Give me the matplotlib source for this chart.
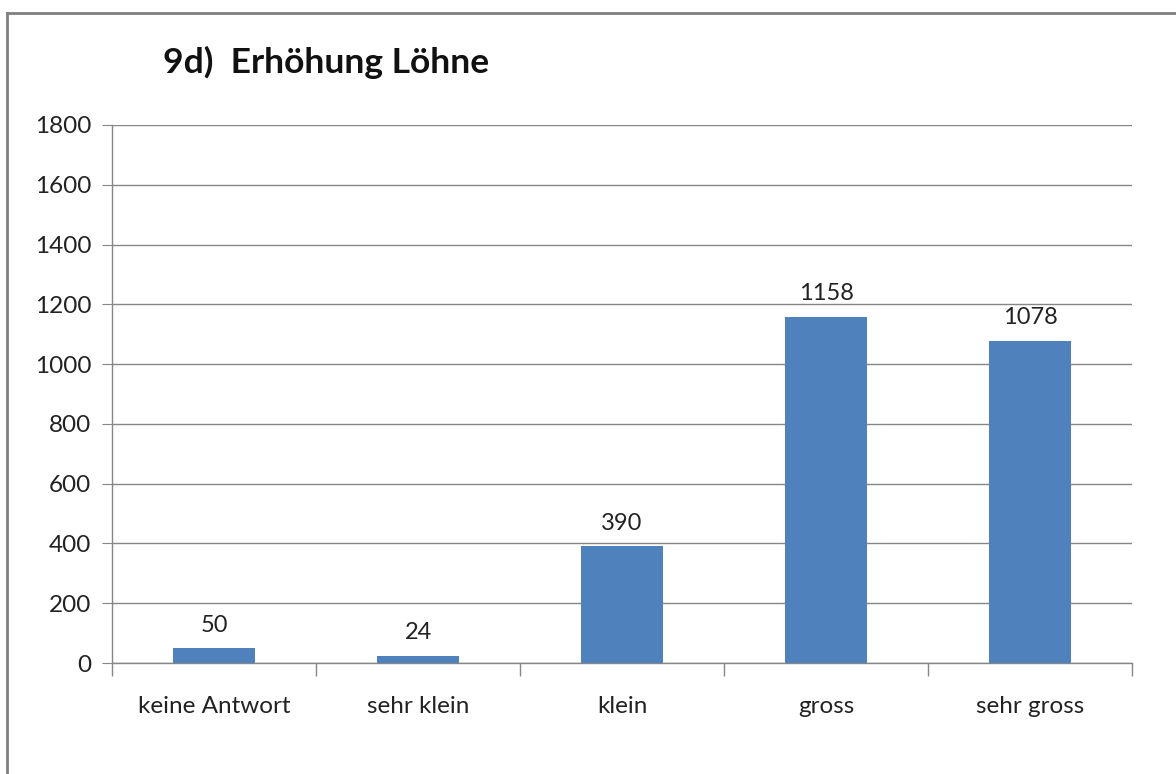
import numpy as np
import matplotlib.pyplot as plt
from matplotlib.lines import Line2D

plt.rcParams['font.family'] = ['Lato', 'DejaVu Sans']

categories = ["keine Antwort", "sehr klein", "klein", "gross", "sehr gross"]
values = [50, 24, 390, 1158, 1078]
title = "9d)  Erhöhung Löhne"

W, H = 1176, 774
fig = plt.figure(figsize=(W / 100, H / 100), dpi=100)
ax = fig.add_axes([112 / W, 1 - 663 / H, (1132 - 112) / W, (663 - 125) / H])

x = np.arange(len(categories))
ax.bar(x, values, width=0.4, color="#4F81BD", zorder=3)
for xi, v in zip(x, values):
    ax.text(xi, v + 42, str(v), ha="center", va="bottom", fontsize=17, color="#222222")

ax.set_xlim(-0.5, len(categories) - 0.5)
ax.set_ylim(0, 1800)
ax.set_yticks(np.arange(0, 1801, 200))
ax.tick_params(axis="y", labelsize=17.5, length=7, color="#868686", pad=8, labelcolor="#222222")
ax.yaxis.grid(True, color="#868686", linewidth=1, zorder=0)

ax.set_xticks(x)
ax.set_xticklabels(categories)
ax.tick_params(axis="x", which="major", length=0, labelsize=17.5, pad=24, labelcolor="#222222")
ax.set_xticks(np.arange(-0.5, len(categories), 1), minor=True)
ax.tick_params(axis="x", which="minor", length=9, color="#868686", width=1)

for s in ["top", "right"]:
    ax.spines[s].set_visible(False)
for s in ["left", "bottom"]:
    ax.spines[s].set_color("#868686")
    ax.spines[s].set_linewidth(1)

fig.text(163 / W, 1 - 62 / H, title, fontsize=25.5, fontweight="bold", ha="left", va="center", color="#111111")

# chart frame (only top/left visible in the crop)
fig.add_artist(Line2D([7 / W, 7 / W], [0, 1 - 13 / H], transform=fig.transFigure, color="#808080", linewidth=2))
fig.add_artist(Line2D([7 / W, 1], [1 - 13 / H, 1 - 13 / H], transform=fig.transFigure, color="#808080", linewidth=2))

fig.savefig("out.png", dpi=100)
